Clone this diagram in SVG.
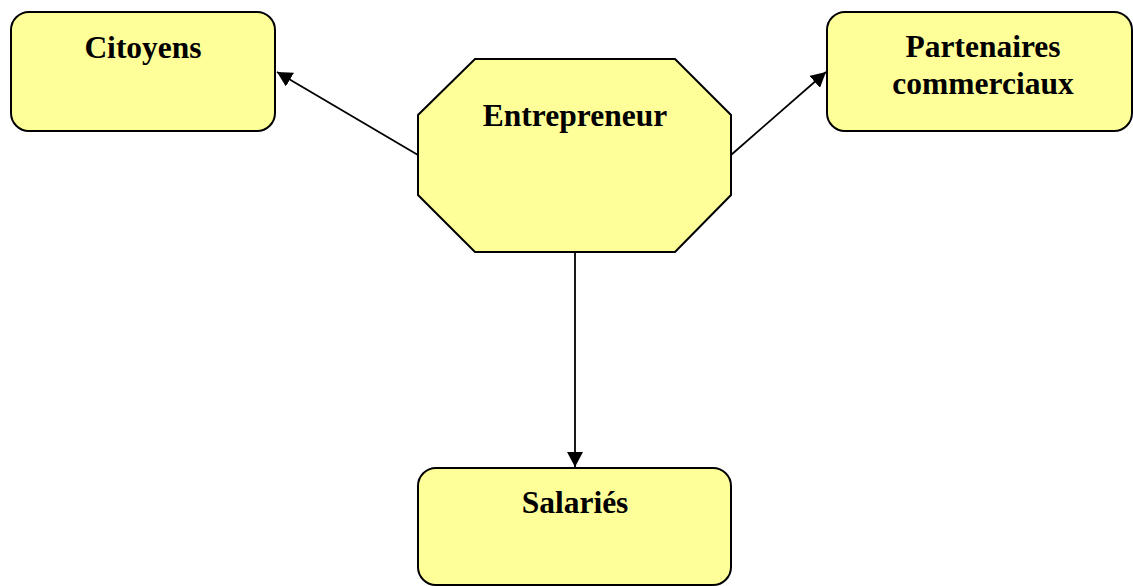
<svg xmlns="http://www.w3.org/2000/svg" width="1133" height="586" viewBox="0 0 1133 586">
  <style>
    .node { fill: #FFFF99; stroke: #000000; stroke-width: 2; }
    .label { font-family: "Liberation Serif", "Times New Roman", serif; font-weight: bold; font-size: 31.5px; fill: #000000; text-anchor: middle; }
    .edge { stroke: #000000; stroke-width: 1.8; fill: none; marker-end: url(#arrow); }
  </style>
  <defs>
    <marker id="arrow" viewBox="0 0 15 16" refX="15" refY="8" markerWidth="15" markerHeight="16" markerUnits="userSpaceOnUse" orient="auto">
      <path d="M0,0 L15,8 L0,16 Z" fill="#000000"/>
    </marker>
  </defs>
  <rect width="1133" height="586" fill="#FFFFFF"/>

  <g id="connectors">
    <line class="edge" x1="418" y1="155" x2="277" y2="72"/>
    <line class="edge" x1="731" y1="155" x2="826" y2="72"/>
    <line class="edge" x1="575" y1="252" x2="575" y2="467"/>
  </g>

  <g id="node-citoyens">
    <rect class="node" x="11" y="12" width="264" height="119" rx="18" ry="18"/>
    <text class="label" x="143" y="58">Citoyens</text>
  </g>

  <g id="node-entrepreneur">
    <polygon class="node" points="475,59 675,59 731,115 731,195 675,252 475,252 418,195 418,115"/>
    <text class="label" x="575" y="126">Entrepreneur</text>
  </g>

  <g id="node-partenaires">
    <rect class="node" x="827" y="12" width="305" height="119" rx="18" ry="18"/>
    <text class="label" x="983" y="57">Partenaires</text>
    <text class="label" x="983" y="94">commerciaux</text>
  </g>

  <g id="node-salaries">
    <rect class="node" x="418" y="468" width="313" height="117" rx="18" ry="18"/>
    <text class="label" x="575" y="513">Salariés</text>
  </g>
</svg>
